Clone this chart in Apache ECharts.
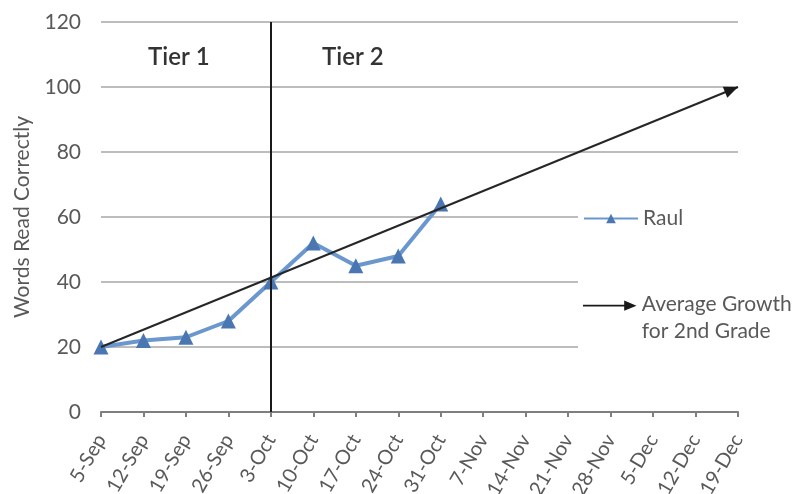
<!DOCTYPE html>
<html>
<head>
<meta charset="utf-8">
<script src="https://cdn.jsdelivr.net/npm/echarts@6/dist/echarts.min.js"></script>
<style>
  html, body { margin: 0; padding: 0; background: #ffffff; }
  #chart { width: 799px; height: 494px; }
</style>
</head>
<body>
<div id="chart"></div>
<script>
// Weekly reading checks
const weeks = ['5-Sep','12-Sep','19-Sep','26-Sep','3-Oct','10-Oct','17-Oct','24-Oct','31-Oct',
               '7-Nov','14-Nov','21-Nov','28-Nov','5-Dec','12-Dec','19-Dec'];
const raulScores = [20, 22, 23, 28, 40, 52, 45, 48, 64];
// Expected growth: start and goal points
const growthWeeks = ['5-Sep', '19-Dec'];
const growthValues = [20, 100];
const tierSplitWeek = '3-Oct';
const tierNames = ['Tier 1', 'Tier 2'];
const yTicks = { min: 0, max: 120, interval: 20 };
const seriesNames = ['Raul', 'Average Growth\nfor 2nd Grade'];

const FONT = 'Lato, "Open Sans", "Liberation Sans", sans-serif';
const TEXT = '#595959';

const chart = echarts.init(document.getElementById('chart'), null, { renderer: 'canvas' });

// Arrow glyph for the legend; the zero-area point at the bottom keeps the arrow
// at the top of its icon box so it lines up with the first text line
const arrowIcon = 'path://M0,4.2 L40,4.2 L40,0 L52,5 L40,10 L40,5.8 L0,5.8 Z M0,34 L0.01,34 Z';

function overlays(extra) {
  return [
    // white panel behind the legend, over the grid lines
    { type: 'rect', z: 3, shape: { x: 578, y: 196, width: 221, height: 161 }, style: { fill: '#ffffff' } },
    { type: 'text', z: 5, left: 148, top: 45, style: { text: tierNames[0], fill: '#333333', font: '600 24px ' + FONT } },
    { type: 'text', z: 5, left: 322, top: 45, style: { text: tierNames[1], fill: '#333333', font: '600 24px ' + FONT } }
  ].concat(extra || []);
}

const legendText = { color: TEXT, fontSize: 21, fontFamily: FONT, lineHeight: 27 };

chart.setOption({
  animation: false,
  backgroundColor: '#ffffff',
  textStyle: { fontFamily: FONT },
  grid: { left: 101, right: 61, top: 22, bottom: 82, containLabel: false, outerBoundsMode: 'none' },
  xAxis: {
    type: 'category',
    data: weeks,
    boundaryGap: false,
    axisLine: { lineStyle: { color: '#7f7f7f', width: 2 } },
    axisTick: { show: true, inside: false, length: 5, lineStyle: { color: '#7f7f7f', width: 2 }, alignWithLabel: true },
    axisLabel: { color: TEXT, fontSize: 20, rotate: 60, margin: 24, interval: 0, fontFamily: FONT },
    splitLine: { show: false }
  },
  yAxis: {
    type: 'value',
    min: yTicks.min, max: yTicks.max, interval: yTicks.interval,
    name: 'Words Read Correctly',
    nameLocation: 'middle',
    nameGap: 68,
    nameRotate: 90,
    nameTextStyle: { color: TEXT, fontSize: 21, fontFamily: FONT },
    axisLine: { show: false },
    axisTick: { show: false },
    axisLabel: { color: TEXT, fontSize: 21, margin: 20, fontFamily: FONT },
    splitLine: { lineStyle: { color: '#bdbdbd', width: 2 } }
  },
  legend: [
    {
      orient: 'vertical',
      left: 583, top: 205,
      padding: 0,
      itemWidth: 54, itemHeight: 12,
      textStyle: legendText,
      data: [{ name: seriesNames[0] }]
    },
    {
      orient: 'vertical',
      left: 583, top: 291,
      padding: 0,
      itemWidth: 54, itemHeight: 35,
      textStyle: legendText,
      data: [{ name: seriesNames[1], icon: arrowIcon, itemStyle: { color: '#1a1a1a', borderWidth: 0 } }]
    }
  ],
  graphic: overlays(),
  series: [
    {
      name: seriesNames[0],
      type: 'line',
      data: raulScores,
      symbol: 'triangle',
      symbolSize: 15,
      lineStyle: { color: '#6b97cf', width: 4 },
      itemStyle: { color: '#4a77b2' },
      z: 3,
      markLine: {
        silent: true,
        symbol: ['none', 'none'],
        label: { show: false },
        lineStyle: { color: '#1a1a1a', width: 2, type: 'solid' },
        data: [{ xAxis: tierSplitWeek }]
      }
    },
    {
      name: seriesNames[1],
      type: 'line',
      data: growthWeeks.map((w, i) => [w, growthValues[i]]),
      showSymbol: false,
      symbol: 'none',
      lineStyle: { color: '#262626', width: 2 },
      itemStyle: { color: '#1a1a1a' },
      z: 4
    }
  ]
});

// Arrowhead at the goal end of the expected-growth line
const tip = chart.convertToPixel({ seriesIndex: 1 }, [growthWeeks[1], growthValues[1]]);
const tail = chart.convertToPixel({ seriesIndex: 1 }, [growthWeeks[0], growthValues[0]]);
const ang = Math.atan2(tip[1] - tail[1], tip[0] - tail[0]);
chart.setOption({
  graphic: overlays([{
    type: 'polygon',
    z: 10,
    x: tip[0], y: tip[1], rotation: -ang,
    shape: { points: [[0, 0], [-14, -6], [-14, 6]] },
    style: { fill: '#1a1a1a' }
  }])
});
</script>
</body>
</html>
